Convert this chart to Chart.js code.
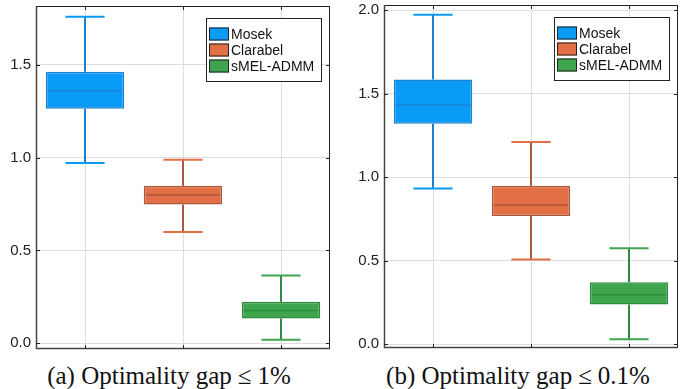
<!DOCTYPE html>
<html>
<head>
<meta charset="utf-8">
<script src="https://cdn.jsdelivr.net/npm/chart.js@4.4.1/dist/chart.umd.min.js"></script>
<style>
  html, body { margin: 0; padding: 0; background: #fff; }
  #wrap { position: relative; width: 683px; height: 389px; overflow: hidden; }
  canvas { position: absolute; top: 0; }
  .caption {
    position: absolute; top: 363px; line-height: 25px;
    font-family: "Liberation Serif", "Times New Roman", serif; font-size: 25px;
    color: #111; white-space: nowrap; transform: translateX(-50%);
  }
  .rel { margin: 0 6px; }
</style>
</head>
<body>
<div id="wrap">
  <canvas id="chartA" width="340" height="352" style="left:0"></canvas>
  <canvas id="chartB" width="343" height="352" style="left:340px"></canvas>
  <div class="caption" style="left:169px">(a) Optimality gap<span class="rel">≤</span>1%</div>
  <div class="caption" style="left:518px">(b) Optimality gap<span class="rel">≤</span>0.1%</div>
</div>
<script>
const categories = ["Mosek", "Clarabel", "sMEL-ADMM"];
const fillColors = ["#0a9bf7", "#e26f46", "#3ea44e"];
const edgeColors = ["#1a82d0", "#a9573d", "#2e8a3d"];

// panel (a): optimality gap <= 1%
const lowA = [0.971, 0.599, 0.018];
const q1A = [1.264, 0.747, 0.133];
const medA = [1.361, 0.799, 0.176];
const q3A = [1.464, 0.848, 0.223];
const highA = [1.76, 0.989, 0.365];
const yTicksA = [0, 0.5, 1.0, 1.5];

// panel (b): optimality gap <= 0.1%
const lowB = [0.932, 0.508, 0.031];
const q1B = [1.32, 0.767, 0.238];
const medB = [1.432, 0.833, 0.296];
const q3B = [1.584, 0.948, 0.372];
const highB = [1.972, 1.21, 0.575];
const yTicksB = [0, 0.5, 1.0, 1.5, 2.0];

// whiskers, caps and medians, drawn from the scales
const boxWhiskers = {
    id: "boxWhiskers",
    afterDatasetsDraw(chart, args, opts) {
        const ctx = chart.ctx;
        const xs = chart.scales.x;
        const ys = chart.scales.y;
        const step = xs.getPixelForValue(1) - xs.getPixelForValue(0);
        ctx.save();
        categories.forEach((c, i) => {
            const x = xs.getPixelForValue(i);
            const yLow = ys.getPixelForValue(opts.low[i]);
            const yQ1 = ys.getPixelForValue(opts.q1[i]);
            const yMed = ys.getPixelForValue(opts.med[i]);
            const yQ3 = ys.getPixelForValue(opts.q3[i]);
            const yHigh = ys.getPixelForValue(opts.high[i]);
            const capHalf = step * 0.2;
            const boxHalf = step * 0.4 - 2;

            ctx.lineWidth = 2;
            ctx.strokeStyle = edgeColors[i];
            ctx.beginPath();
            ctx.moveTo(x, yHigh); ctx.lineTo(x, yQ3);
            ctx.moveTo(x, yQ1); ctx.lineTo(x, yLow);
            ctx.stroke();

            ctx.strokeStyle = fillColors[i];
            ctx.beginPath();
            ctx.moveTo(x - capHalf, yHigh); ctx.lineTo(x + capHalf, yHigh);
            ctx.moveTo(x - capHalf, yLow); ctx.lineTo(x + capHalf, yLow);
            ctx.stroke();

            ctx.lineWidth = 1.5;
            ctx.strokeStyle = edgeColors[i];
            ctx.beginPath();
            ctx.moveTo(x - boxHalf, yMed); ctx.lineTo(x + boxHalf, yMed);
            ctx.stroke();
        });
        ctx.restore();
    },
};

// frame round the plot area with small inward ticks
const frame = {
    id: "frame",
    afterDatasetsDraw(chart) {
        const ctx = chart.ctx;
        const a = chart.chartArea;
        const ys = chart.scales.y;
        const xs = chart.scales.x;
        ctx.save();
        ctx.strokeStyle = "#222";
        ctx.lineWidth = 1;
        ctx.beginPath();
        ctx.moveTo(a.left, a.top + 0.5); ctx.lineTo(a.right, a.top + 0.5);
        ctx.moveTo(a.right - 0.5, a.top); ctx.lineTo(a.right - 0.5, a.bottom);
        ctx.stroke();
        ctx.strokeStyle = "#444";
        ctx.lineWidth = 1.5;
        ctx.beginPath();
        ctx.moveTo(a.left + 0.5, a.top); ctx.lineTo(a.left + 0.5, a.bottom);
        ctx.moveTo(a.left, a.bottom - 0.5); ctx.lineTo(a.right, a.bottom - 0.5);
        ctx.stroke();
        ctx.lineWidth = 1;
        ctx.strokeStyle = "#222";
        ctx.beginPath();
        ys.ticks.forEach((t) => {
            const y = Math.round(ys.getPixelForValue(t.value)) + 0.5;
            ctx.moveTo(a.left, y); ctx.lineTo(a.left + 4, y);
            ctx.moveTo(a.right, y); ctx.lineTo(a.right - 4, y);
        });
        categories.forEach((c, i) => {
            const x = Math.round(xs.getPixelForValue(i)) + 0.5;
            ctx.moveTo(x, a.bottom); ctx.lineTo(x, a.bottom - 4);
            ctx.moveTo(x, a.top); ctx.lineTo(x, a.top + 4);
        });
        ctx.stroke();
        ctx.restore();
    },
};

// boxed legend in the top right corner of the plot area
const boxLegend = {
    id: "boxLegend",
    afterDraw(chart) {
        const ctx = chart.ctx;
        const a = chart.chartArea;
        const w = 115, h = 63;
        const left = a.right - 9 - w;
        const top = a.top + 12;
        ctx.save();
        ctx.fillStyle = "#fff";
        ctx.fillRect(left, top, w, h);
        ctx.strokeStyle = "#222";
        ctx.lineWidth = 1;
        ctx.strokeRect(left + 0.5, top + 0.5, w, h);
        ctx.font = "14px 'Liberation Sans', Arial, sans-serif";
        ctx.textBaseline = "middle";
        chart.data.datasets.forEach((ds, i) => {
            const cy = top + 16 + i * 16;
            ctx.fillStyle = ds.backgroundColor;
            ctx.fillRect(left + 3, cy - 6.5, 20, 13);
            ctx.strokeStyle = "#222";
            ctx.strokeRect(left + 3.5, cy - 6, 19, 12);
            ctx.fillStyle = "#111";
            ctx.fillText(ds.label, left + 25, cy + 1);
        });
        ctx.restore();
    },
};

function makeBoxChart(canvasId, low, q1, med, q3, high, yTicks, yMin, yMax, axisWidth, pad) {
    const datasets = categories.map((name, i) => ({
        label: name,
        data: categories.map((c, j) => (j === i ? [q1[i], q3[i]] : null)),
        backgroundColor: fillColors[i],
        borderColor: edgeColors[i],
        borderWidth: 1.5,
        borderSkipped: false,
        grouped: false,
        barPercentage: 0.8,
        categoryPercentage: 1.0,
    }));

    return new Chart(document.getElementById(canvasId), {
        type: "bar",
        data: { labels: categories, datasets: datasets },
        plugins: [boxWhiskers, frame, boxLegend],
        options: {
            responsive: false,
            animation: false,
            layout: { padding: pad },
            plugins: {
                legend: { display: false },
                tooltip: { enabled: false },
                boxWhiskers: { low: low, q1: q1, med: med, q3: q3, high: high },
            },
            scales: {
                x: {
                    offset: true,
                    grid: { offset: false, color: "#dddddd", drawTicks: false },
                    border: { display: false },
                    ticks: { display: false },
                    afterFit: (s) => { s.height = 0; s.paddingLeft = 0; s.paddingRight = 0; },
                },
                y: {
                    min: yMin,
                    max: yMax,
                    grid: { color: "#dddddd", drawTicks: false },
                    border: { display: false },
                    afterBuildTicks: (s) => { s.ticks = yTicks.map((v) => ({ value: v })); },
                    afterFit: (s) => { s.width = axisWidth; s.paddingTop = 0; s.paddingBottom = 0; },
                    ticks: {
                        padding: 5,
                        color: "#222",
                        font: { family: "'Liberation Sans', Arial, sans-serif", size: 15 },
                        callback: (v) => Number(v).toFixed(1),
                    },
                },
            },
        },
    });
}

makeBoxChart("chartA", lowA, q1A, medA, q3A, highA, yTicksA, -0.032, 1.818, 36,
    { top: 6, right: 10, bottom: 3, left: 0 });
makeBoxChart("chartB", lowB, q1B, medB, q3B, highB, yTicksB, -0.022, 2.03, 44,
    { top: 5, right: 5, bottom: 4, left: 0 });
</script>
</body>
</html>
